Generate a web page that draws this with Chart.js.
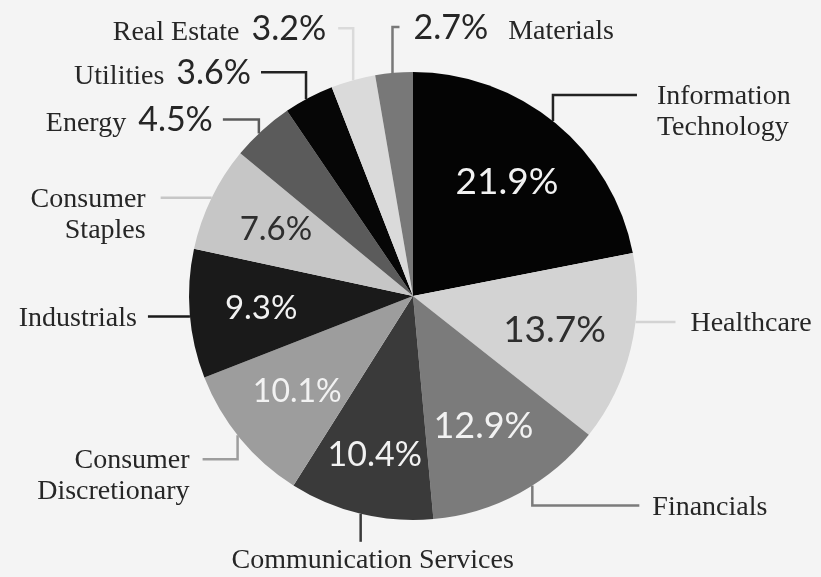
<!DOCTYPE html>
<html>
<head>
<meta charset="utf-8">
<title>Sector Weights</title>
<script src="https://cdn.jsdelivr.net/npm/chart.js"></script>
<style>
  html, body { margin: 0; padding: 0; background: #f4f4f4; }
  #wrap { width: 821px; height: 577px; }
</style>
</head>
<body>
<div id="wrap"><canvas id="sectorChart" width="821" height="577"></canvas></div>
<script>
const sectors = ['Information Technology', 'Healthcare', 'Financials', 'Communication Services',
  'Consumer Discretionary', 'Industrials', 'Consumer Staples', 'Energy', 'Utilities', 'Real Estate', 'Materials'];
const weights = [21.9, 13.7, 12.9, 10.4, 10.1, 9.3, 7.6, 4.5, 3.6, 3.2, 2.7];
const sliceColors = ['#040404', '#d3d3d3', '#7b7b7b', '#3a3a3a', '#9d9d9d', '#1a1a1a',
  '#c6c6c6', '#5b5b5b', '#060606', '#dadada', '#787878'];

// callout layout: t = where along the slice the leader starts, dy/dx = elbow then run
const callouts = [
  { t: 0.49, dy: -26, dx: 84, gap: 20, align: 'left', wrap: true, inR: 0.66, inSize: 37 },
  { t: 0.36, dy: 0, dx: 40, gap: 15, align: 'left', inR: 0.65, inSize: 37 },
  { t: 0.42, dy: 20, dx: 107, gap: 13, align: 'left', inR: 0.66, inSize: 36 },
  { t: 0.50, dy: 28, dx: 0, gap: 0, align: 'center', inR: 0.73, inSize: 34 },
  { t: 0.53, dy: 24, dx: -35, gap: 13, align: 'right', wrap: true, inR: 0.67, inSize: 32 },
  { t: 0.48, dy: 0, dx: -42, gap: 11, align: 'right', inR: 0.68, inSize: 33 },
  { t: 0.505, dy: 0, dx: -51, gap: 15, align: 'right', wrap: true, inR: 0.68, inSize: 33 },
  { t: 0.43, dy: -14, dx: -36, gap: 10, align: 'right', outside: true },
  { t: 0.44, dy: -27, dx: -45, gap: 10, align: 'right', outside: true },
  { t: 0.50, dy: -52, dx: -15, gap: 12, align: 'right', outside: true },
  { t: 0.46, dy: -46, dx: 7, gap: 14, align: 'left', outside: true, pctFirst: true }
];

const nameFont = '28px "Liberation Serif"';
const pctFont = size => size + 'px Lato';
const textColor = '#262626';

function lightness(hex) {
  return parseInt(hex.slice(1, 3), 16) / 255;
}

const calloutPlugin = {
  id: 'callouts',
  afterDatasetsDraw(chart) {
    const ctx = chart.ctx;
    const arcs = chart.getDatasetMeta(0).data;
    ctx.save();
    arcs.forEach((arc, i) => {
      const c = callouts[i];
      const { x, y, startAngle, endAngle, outerRadius } = arc.getProps(['x', 'y', 'startAngle', 'endAngle', 'outerRadius'], true);
      const pct = weights[i].toFixed(1) + '%';

      // value inside the slice
      if (!c.outside) {
        const mid = (startAngle + endAngle) / 2;
        const r = outerRadius * c.inR;
        ctx.font = pctFont(c.inSize);
        ctx.fillStyle = lightness(sliceColors[i]) > 0.7 ? '#2e2e2e' : '#f2f2f2';
        ctx.textAlign = 'center';
        ctx.textBaseline = 'middle';
        ctx.fillText(pct, x + r * Math.cos(mid), y + r * Math.sin(mid));
      }

      // leader line
      const a = startAngle + c.t * (endAngle - startAngle);
      const ax = x + outerRadius * Math.cos(a);
      const ay = y + outerRadius * Math.sin(a);
      const ey = ay + c.dy;
      const ex = ax + c.dx;
      ctx.strokeStyle = lightness(sliceColors[i]) < 0.1 ? '#222' : sliceColors[i];
      ctx.lineWidth = 2.5;
      ctx.beginPath();
      ctx.moveTo(ax, ay);
      ctx.lineTo(ax, ey);
      ctx.lineTo(ex, ey);
      ctx.stroke();

      // label text
      ctx.fillStyle = textColor;
      ctx.textBaseline = 'alphabetic';
      if (c.align === 'center') {
        ctx.font = nameFont;
        ctx.textAlign = 'center';
        ctx.fillText(sectors[i], ex + 12, ey + 26);
        return;
      }
      const dir = c.align === 'left' ? 1 : -1;
      const lx = ex + dir * c.gap;
      if (c.outside) {
        const by = ey + 12;
        ctx.font = pctFont(34);
        const pctW = ctx.measureText(pct).width;
        if (c.pctFirst) {
          ctx.textAlign = 'left';
          ctx.fillText(pct, lx, by);
          ctx.font = nameFont;
          ctx.fillText(sectors[i], lx + pctW + 20, by);
        } else {
          ctx.textAlign = 'right';
          ctx.fillText(pct, lx, by);
          ctx.font = nameFont;
          ctx.fillText(sectors[i], lx - pctW - 12, by);
        }
        return;
      }
      ctx.font = nameFont;
      ctx.textAlign = c.align;
      const lines = c.wrap ? sectors[i].split(' ') : [sectors[i]];
      lines.forEach((line, k) => {
        ctx.fillText(line, lx, ey + 9 + k * 31);
      });
    });
    ctx.restore();
  }
};

new Chart(document.getElementById('sectorChart'), {
  type: 'pie',
  data: {
    labels: sectors,
    datasets: [{
      data: weights,
      backgroundColor: sliceColors,
      borderWidth: 0,
      hoverOffset: 0,
      offset: 0
    }]
  },
  options: {
    responsive: false,
    animation: false,
    layout: { padding: { top: 72, bottom: 57, left: 100, right: 95 } },
    plugins: {
      legend: { display: false },
      tooltip: { enabled: false }
    }
  },
  plugins: [calloutPlugin]
});
</script>
</body>
</html>
